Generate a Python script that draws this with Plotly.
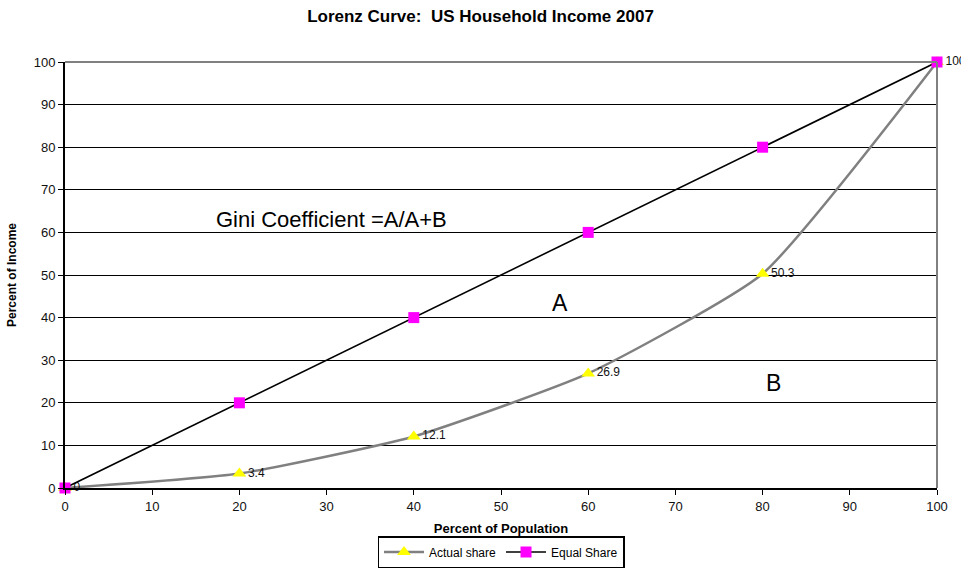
import plotly.graph_objects as go

population = [0, 20, 40, 60, 80, 100]
actual_share = [0, 3.4, 12.1, 26.9, 50.3, 100]
actual_labels = ["0", "3.4", "12.1", "26.9", "50.3", "100"]
equal_share = [0, 20, 40, 60, 80, 100]
x_ticks = list(range(0, 101, 10))
y_ticks = list(range(0, 101, 10))

FONT = "Liberation Sans, Arial, sans-serif"

fig = go.Figure()
fig.add_trace(go.Scatter(
    x=population, y=actual_share, name="Actual share",
    mode="lines+markers+text", text=actual_labels, textposition="middle right",
    textfont=dict(family=FONT, size=12, color="#111"),
    line=dict(color="#808080", width=2.5, shape="spline", smoothing=0.5),
    marker=dict(symbol="triangle-up", color="#ffff00", size=12),
    cliponaxis=False,
))
fig.add_trace(go.Scatter(
    x=population, y=equal_share, name="Equal Share",
    mode="lines+markers",
    line=dict(color="#000000", width=1.6),
    marker=dict(symbol="square", color="#ff00ff", size=11),
    cliponaxis=False,
))

fig.add_annotation(x=30.6, y=63.0, xref="x", yref="y", text="Gini Coefficient =A/A+B",
                   showarrow=False, xanchor="center", yanchor="middle",
                   font=dict(family=FONT, size=22, color="#000"))
fig.add_annotation(x=56.8, y=43.4, xref="x", yref="y", text="A", showarrow=False,
                   font=dict(family=FONT, size=23, color="#000"))
fig.add_annotation(x=81.2, y=24.6, xref="x", yref="y", text="B", showarrow=False,
                   font=dict(family=FONT, size=23, color="#000"))

# top and right plot-area border in grey
fig.add_shape(type="line", xref="paper", yref="paper", x0=0, x1=1, y0=1, y1=1,
              line=dict(color="#808080", width=2))
fig.add_shape(type="line", xref="paper", yref="paper", x0=1, x1=1, y0=0, y1=1,
              line=dict(color="#808080", width=2))

fig.update_layout(
    width=961, height=572,
    margin=dict(l=65, r=24, t=62, b=84, autoexpand=False),
    paper_bgcolor="white", plot_bgcolor="white",
    font=dict(family=FONT, size=13, color="#111"),
    title=dict(text="<b>Lorenz Curve:  US Household Income 2007</b>", x=0.5, xanchor="center",
               y=1 - 16/572, yanchor="middle", font=dict(family=FONT, size=17, color="#000")),
    showlegend=True,
    legend=dict(orientation="h", x=501 / 961, xanchor="center", xref="container",
                y=4 / 572, yanchor="bottom", yref="container",
                bordercolor="#000", borderwidth=1.5, font=dict(family=FONT, size=12, color="#000"),
                itemwidth=40, tracegroupgap=0),
    xaxis=dict(range=[0, 100], tickvals=x_ticks, showgrid=False, zeroline=False,
               showline=True, linecolor="#000", linewidth=2, ticks="outside", ticklen=5,
               tickcolor="#000", tickfont=dict(size=13),
               title=dict(text="<b>Percent of Population</b>", standoff=12,
                          font=dict(family=FONT, size=13, color="#000"))),
    yaxis=dict(range=[0, 100], tickvals=y_ticks, showgrid=True, gridcolor="#000", gridwidth=1.4,
               zeroline=False, showline=True, linecolor="#000", linewidth=2, ticks="outside",
               ticklen=5, tickcolor="#000", tickfont=dict(size=13),
               title=dict(text="<b>Percent of Income</b>", standoff=14,
                          font=dict(family=FONT, size=12, color="#000"))),
)

fig.write_html("out.html")
